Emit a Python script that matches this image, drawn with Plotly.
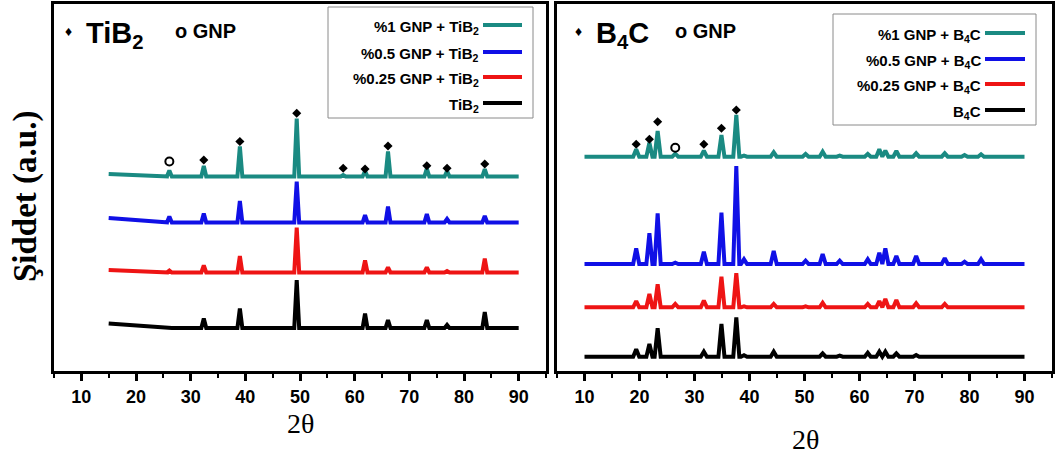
import plotly.graph_objects as go

W, H = 1057, 454

# ---------------- data ----------------
# TiB2 panel: peak positions (2theta) and heights above each pattern's baseline
TIB2_PEAKS = [26.1, 32.4, 39.0, 49.4, 57.9, 61.9, 66.1, 73.2, 76.9, 83.8]
TIB2_SERIES = ["%1 GNP + TiB<sub>2</sub>", "%0.5 GNP + TiB<sub>2</sub>",
               "%0.25 GNP + TiB<sub>2</sub>", "TiB<sub>2</sub>"]
TIB2_START = [197.0, 153.0, 101.0, 47.5]      # baseline value at 2theta = 15
TIB2_BASE = [194.5, 148.5, 98.5, 43.0]        # flat baseline value
TIB2_H = [
    [6, 10.5, 30, 58, 1.5, 5.5, 25, 8, 5.5, 7.5],
    [6, 9, 21.5, 41, 0.5, 7.5, 16, 8.5, 3.5, 6.5],
    [2, 7, 16.5, 45, 0.5, 12, 5, 5, 1.5, 14],
    [0.5, 9.5, 19.5, 48, 0, 14.5, 8, 8, 3, 16],
]
TIB2_DIAM_X = [32.4, 39.0, 49.4, 57.9, 61.9, 66.1, 73.2, 76.9, 83.8]
TIB2_DIAM_Y = [211, 229.5, 257.7, 202.7, 202, 225, 205.3, 202.7, 207]
TIB2_GNP_X = [26.1]
TIB2_GNP_Y = [209.5]

# B4C panel
B4C_PEAKS = [19.4, 21.8, 23.3, 26.5, 31.7, 34.9, 37.6, 39.0, 44.4, 50.2,
             53.3, 56.4, 61.5, 63.6, 64.7, 66.7, 70.3, 75.5, 79.1, 82.1]
B4C_SERIES = ["%1 GNP + B<sub>4</sub>C", "%0.5 GNP + B<sub>4</sub>C",
              "%0.25 GNP + B<sub>4</sub>C", "B<sub>4</sub>C"]
B4C_BASE = [214.3, 107.0, 63.7, 14.3]
B4C_H = [
    [7.4, 14, 25.7, 3, 6, 21.7, 41.7, 1, 4.4, 2.7, 5, 1, 2.7, 7.4, 6, 5.7, 3.4, 3.4, 1.7, 2.4],
    [15.7, 30.7, 50.7, 1.3, 12.3, 51.3, 98, 4.7, 13, 3.3, 10, 3.3, 4.7, 11.3, 15.7, 8, 8, 5.7, 2.3, 4.7],
    [6.3, 13.3, 23, 3.3, 6.6, 30.6, 34, 1, 3.3, 1, 4.5, 0.5, 3.3, 6.3, 8.3, 7.3, 4, 3.3, 1, 1],
    [7.4, 12.7, 28.4, 0.5, 5, 32.7, 39.4, 1.5, 5, 1, 3.3, 1, 4, 5, 5, 3.3, 1.7, 1, 0.5, 1],
]
B4C_DIAM_X = [19.4, 21.8, 23.3, 31.7, 34.9, 37.6]
B4C_DIAM_Y = [226.7, 231.7, 249.3, 226.7, 242.7, 261]
B4C_GNP_X = [26.5]
B4C_GNP_Y = [223.3]

COLORS = ["#1a8a82", "#1010e6", "#ee1414", "#000000"]
X_TICKS = [10, 20, 30, 40, 50, 60, 70, 80, 90]

# ---------------- helpers ----------------
def px(x):
    return x / W

def py(y):
    return 1 - y / H

def pattern(x0, x1, slope_end, start, base, peaks, heights, w):
    xs, ys = [x0], [start]
    if slope_end is not None:
        xs.append(slope_end); ys.append(base)
    for p, h in zip(peaks, heights):
        if h <= 0:
            continue
        xs += [p - w, p, p + w]
        ys += [base, base + h, base]
    xs.append(x1); ys.append(base)
    return xs, ys

fig = go.Figure()

for i in range(4):
    xs, ys = pattern(15, 90, 26, TIB2_START[i], TIB2_BASE[i], TIB2_PEAKS, TIB2_H[i], 0.45)
    fig.add_trace(go.Scatter(x=xs, y=ys, mode="lines", line=dict(color=COLORS[i], width=4),
                             xaxis="x", yaxis="y", showlegend=False, hoverinfo="skip"))
    xs, ys = pattern(10, 90, None, B4C_BASE[i], B4C_BASE[i], B4C_PEAKS, B4C_H[i], 0.55)
    fig.add_trace(go.Scatter(x=xs, y=ys, mode="lines", line=dict(color=COLORS[i], width=4),
                             xaxis="x2", yaxis="y2", showlegend=False, hoverinfo="skip"))

for xa, ya, dx, dy, gx, gy in [("x", "y", TIB2_DIAM_X, TIB2_DIAM_Y, TIB2_GNP_X, TIB2_GNP_Y),
                               ("x2", "y2", B4C_DIAM_X, B4C_DIAM_Y, B4C_GNP_X, B4C_GNP_Y)]:
    fig.add_trace(go.Scatter(x=dx, y=dy, mode="markers", xaxis=xa, yaxis=ya,
                             marker=dict(symbol="diamond", size=7, color="black"),
                             showlegend=False, hoverinfo="skip"))
    fig.add_trace(go.Scatter(x=gx, y=gy, mode="markers", xaxis=xa, yaxis=ya,
                             marker=dict(symbol="circle-open", size=8, color="black",
                                         line=dict(width=2, color="black")),
                             showlegend=False, hoverinfo="skip"))

FONT_T = "Liberation Sans, Arial, sans-serif"
FONT_S = "Liberation Serif, Times New Roman, serif"

xax = dict(range=[5, 95], tickvals=X_TICKS, ticks="outside", ticklen=7, tickwidth=2.5,
           tickcolor="black", showline=True, linewidth=3, linecolor="black", mirror=True,
           showgrid=False, zeroline=False,
           minor=dict(ticks="outside", ticklen=4, tickwidth=2, dtick=5, tick0=5, showgrid=False),
           tickfont=dict(family=FONT_T, size=18, color="black", weight="bold"),
           automargin=False)
yax = dict(range=[0, 367], showticklabels=False, ticks="", showline=True, linewidth=3,
           linecolor="black", mirror=True, showgrid=False, zeroline=False, automargin=False)

ydom = [py(371), py(4)]
fig.update_layout(
    width=W, height=H, margin=dict(l=0, r=0, t=0, b=0),
    paper_bgcolor="white", plot_bgcolor="white",
    xaxis=dict(xax, domain=[px(54), px(546)], anchor="y"),
    yaxis=dict(yax, domain=ydom, anchor="x"),
    xaxis2=dict(xax, domain=[px(557), px(1052)], anchor="y2"),
    yaxis2=dict(yax, domain=ydom, anchor="x2"),
)

ann = []
shapes = []

def text(x, y, t, size, family=FONT_T, bold=True, xanchor="center", angle=0):
    ann.append(dict(x=px(x), y=py(y), xref="paper", yref="paper", text=t, showarrow=False,
                    xanchor=xanchor, yanchor="middle", textangle=angle,
                    font=dict(family=family, size=size, color="black",
                              weight="bold" if bold else "normal")))

# axis titles
text(26, 197, "Şiddet (a.u.)", 33, family=FONT_S, bold=True, angle=-90)
text(300, 423, "2θ", 28, family=FONT_S, bold=False)
text(805, 439, "2θ", 28, family=FONT_S, bold=False)

# panel titles
text(68, 31, "♦", 14)
text(84, 35, "TiB<sub>2</sub>", 29, xanchor="left")
text(173, 31, "o GNP", 20, xanchor="left")
text(578, 31, "♦", 14)
text(594, 35, "B<sub>4</sub>C", 29, xanchor="left")
text(673, 31, "o GNP", 20, xanchor="left")

# legends
def legend(box, entries, ys, text_right, line_x):
    x0, y0, x1, y1 = box
    shapes.append(dict(type="rect", xref="paper", yref="paper", x0=px(x0), x1=px(x1),
                       y0=py(y1), y1=py(y0), line=dict(color="#8a8a8a", width=1),
                       fillcolor="white", layer="above"))
    for name, yy, c in zip(entries, ys, COLORS):
        text(text_right, yy + 2, name, 15, xanchor="right")
        shapes.append(dict(type="line", xref="paper", yref="paper", x0=px(line_x[0]),
                           x1=px(line_x[1]), y0=py(yy), y1=py(yy),
                           line=dict(color=c, width=4), layer="above"))

legend((328, 7, 533, 118), TIB2_SERIES, [25, 52, 77, 103], 481, (483, 522))
legend((833, 14, 1036, 125), B4C_SERIES, [33, 59, 84, 110], 983, (985, 1025))

fig.update_layout(annotations=ann, shapes=shapes)
fig.write_html("out.html")
